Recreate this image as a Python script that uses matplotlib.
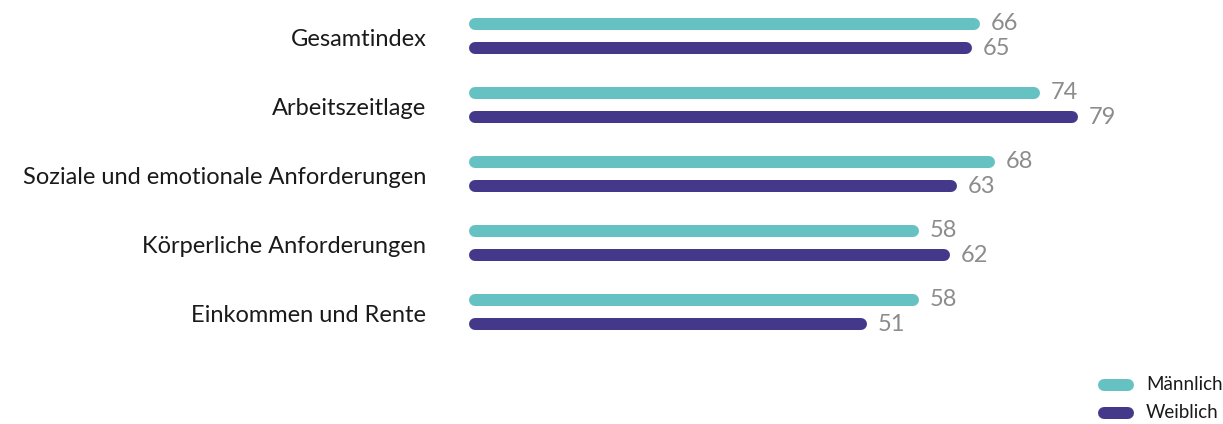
import matplotlib
matplotlib.use("Agg")
import matplotlib.pyplot as plt
from matplotlib.lines import Line2D

categories = ["Gesamtindex", "Arbeitszeitlage", "Soziale und emotionale Anforderungen",
              "Körperliche Anforderungen", "Einkommen und Rente"]
maennlich = [66, 74, 68, 58, 58]
weiblich = [65, 79, 63, 62, 51]
series_names = ["Männlich", "Weiblich"]
colors = ["#66C2C2", "#43388A"]

plt.rcParams['font.family'] = ['Lato', 'DejaVu Sans']

W, H = 1223, 424
fig = plt.figure(figsize=(W/100, H/100), dpi=100)
ax = fig.add_axes([475/W, 1 - 346.5/H, 748/W, 345/H])
ax.set_xlim(0, 748/7.56)
ax.set_ylim(len(categories) - 0.5, -0.5)
ax.axis('off')

off = 0.175
lw = 12 * 72 / 100
for i, cat in enumerate(categories):
    for vals, col, d in ((maennlich, colors[0], -off), (weiblich, colors[1], off)):
        v = vals[i]
        ax.plot([0, v], [i + d, i + d], color=col, lw=lw, solid_capstyle='round', clip_on=False)
        ax.annotate(str(v), xy=(v, i + d), xytext=(12, 0), textcoords='offset points',
                    va='center', ha='left', fontsize=17, color='#8c8c8c')
    ax.annotate(cat, xy=(0, i), xytext=(-35, -2.5), textcoords='offset points',
                va='center', ha='right', fontsize=17, color='#1a1a1a')

# legend
for k, (name, col) in enumerate(zip(series_names, colors)):
    y = 1 - (385 + 28 * k) / H
    fig.add_artist(Line2D([1104/W, 1128/W], [y, y], color=col, lw=lw,
                          solid_capstyle='round', transform=fig.transFigure))
    fig.text(1146/W, y, name, va='center', ha='left', fontsize=13.5, color='#1a1a1a')

fig.savefig("out.png", dpi=100)
